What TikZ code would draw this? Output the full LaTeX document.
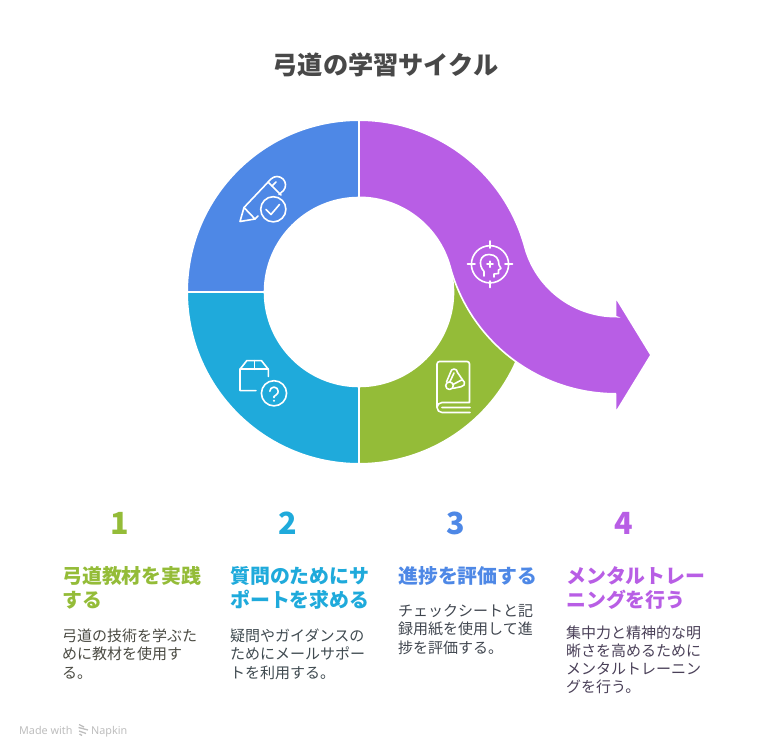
\documentclass[tikz,border=0pt]{standalone}
\usepackage{fontspec}
\setmainfont{Noto Sans CJK JP}
\setsansfont{Noto Sans}
\usetikzlibrary{positioning}
\definecolor{ringgreen}{HTML}{94BC38}
\definecolor{ringteal}{HTML}{1FAADB}
\definecolor{ringblue}{HTML}{4E88E6}
\definecolor{ringpurple}{HTML}{B85EE5}
\definecolor{titlegray}{HTML}{484848}
\definecolor{bodyone}{HTML}{4A4A42}
\definecolor{bodytwo}{HTML}{3F4A50}
\definecolor{bodythree}{HTML}{40464F}
\definecolor{bodyfour}{HTML}{4A4058}
\definecolor{markgray}{HTML}{BDBDBD}

\begin{document}
\begin{tikzpicture}[
    x=1pt, y=1pt,
    node distance=8pt,
    segment/.style={draw=white, line width=1.6pt, line join=miter},
    numlabel/.style={inner sep=0pt, font=\bfseries\fontsize{30.5}{30.5}\selectfont},
    headlabel/.style={inner sep=0pt, anchor=north west, align=left, font=\bfseries\fontsize{19.9}{24.4}\selectfont},
    bodylabel/.style={inner sep=0pt, anchor=north west, align=left, font=\fontsize{15}{18.3}\selectfont},
    marklabel/.style={inner sep=0pt, anchor=base west, text=markgray, font=\sffamily\fontsize{10.8}{10.8}\selectfont},
    iconline/.style={draw=white, line width=1.6pt, line cap=round, line join=round, fill=none}
]
   \useasboundingbox (0,0) rectangle (768,755);

   \coordinate (ringc) at (359,463);
   \coordinate (bendc) at (616,533);

   % Ring
   \path[segment, fill=ringblue]
   ([shift={(90:171.8)}]ringc) arc[start angle=90, end angle=180, radius=171.8]
   -- ([shift={(180:94.5)}]ringc) arc[start angle=180, end angle=90, radius=94.5] -- cycle;
   \path[segment, fill=ringteal]
   ([shift={(180:171.8)}]ringc) arc[start angle=180, end angle=270, radius=171.8]
   -- ([shift={(270:94.5)}]ringc) arc[start angle=270, end angle=180, radius=94.5] -- cycle;
   \path[segment, fill=ringgreen]
   ([shift={(270:171.8)}]ringc) arc[start angle=270, end angle=375, radius=171.8]
   -- ([shift={(15:94.5)}]ringc) arc[start angle=375, end angle=270, radius=94.5] -- cycle;

   % Arrow
   \path[segment, fill=ringpurple]
   ([shift={(90:171.8)}]ringc) arc[start angle=90, end angle=15.2, radius=171.8]
   arc[start angle=195.2, end angle=270, radius=94.5]
   -- (615.5,438.5) -- (615.5,458) -- (651,400) -- (615.5,342) -- (615.5,361.2) -- ([shift={(270:171.8)}]bendc)
   arc[start angle=270, end angle=195.2, radius=171.8]
   arc[start angle=15.2, end angle=90, radius=94.5] -- cycle;

   % Pen
   \begin{scope}[shift={(0,755)}, yscale=-1, iconline]
      \draw (244,207.5) -- (240,221.5) -- (255,219) -- cycle;
      \draw (244,207.5) -- (271,179) arc[start angle=225, end angle=400, radius=8.5] -- (279,194.5);
      \draw (255,219) -- (258,216);
      \draw (268,182) -- (281,195);
      \draw (272,186) -- (276,182);
      \draw (273.3,209.3) circle[radius=12.6];
      \draw (266,209.5) -- (271,214.5) -- (279.5,204.5);
   \end{scope}

   % Box
   \begin{scope}[shift={(0,755)}, yscale=-1, iconline]
      \draw (268.3,376.5) -- (268.3,369.3) -- (261.5,360.7) -- (246.7,360.7) -- (240,369.3) -- (240,390.7) -- (256,390.7);
      \draw (240,369.3) -- (268.3,369.3);
      \draw (254.5,360.7) -- (254.5,369.3);
      \draw (274,393.3) circle[radius=12.6];
      \draw (269.8,391.3) arc[start angle=180, end angle=420, radius=4.2] -- (274,396.5) -- (274,397.5);
      \fill[white] (274,400.8) circle[radius=1.1];
   \end{scope}

   % Book
   \begin{scope}[shift={(0,755)}, yscale=-1, iconline]
      \draw (437,407.5) -- (437,364) arc[start angle=180, end angle=270, radius=2.5] -- (467,361.5)
      arc[start angle=270, end angle=360, radius=2.5] -- (469.5,402.5) -- (442,402.5)
      arc[start angle=270, end angle=90, radius=5] -- (470,412.5) (442,407.5) -- (470,407.5);
      \draw (449.5,385.7) circle[radius=3.8];
      \draw (446.5,382) -- (450.5,372.5) arc[start angle=180, end angle=360, radius=3.5] -- (462.8,380.2)
      arc[start angle=-60, end angle=90, radius=3.5] -- (453.5,388.3);
      \draw (450,381.5) -- (454,373);
      \draw (453,384.5) -- (461.5,380);
   \end{scope}

   % Target
   \begin{scope}[shift={(0,755)}, yscale=-1, iconline]
      \draw (490,264.3) circle[radius=18.6];
      \draw (490,241) -- (490,248) (490,281) -- (490,287.5);
      \draw (467.5,264.3) -- (475,264.3) (505,264.3) -- (512.5,264.3);
      \draw (487,264.3) -- (493,264.3) (490,261.3) -- (490,267.3);
      \draw (484,276) -- (484,271.5) .. controls (478,265) and (479.5,254.5) .. (489,254.5)
      .. controls (496,254.5) and (499,259) .. (499,265) -- (501,268.5) -- (498.5,270)
      -- (498.5,273.5) -- (494,274) -- (494,277);
   \end{scope}

   % Labels
   \node[font=\bfseries\fontsize{25.2}{25.2}\selectfont, text=titlegray, inner sep=0pt] (title) at (385.5,690) {弓道の学習サイクル};

   \node[numlabel, text=ringgreen] (num1) at (120,232) {1};
   \node[numlabel, text=ringteal, right=168pt of num1.center, anchor=center] (num2) {2};
   \node[numlabel, text=ringblue, right=168pt of num2.center, anchor=center] (num3) {3};
   \node[numlabel, text=ringpurple, right=168pt of num3.center, anchor=center] (num4) {4};

   \node[headlabel, text=ringgreen] (head1) at (62,189) {弓道教材を実践\\する};
   \node[headlabel, text=ringteal] (head2) at (230,189) {質問のためにサ\\ポートを求める};
   \node[headlabel, text=ringblue] (head3) at (398,189) {進捗を評価する};
   \node[headlabel, text=ringpurple] (head4) at (566,189) {メンタルトレー\\ニングを行う};

   \node[bodylabel, text=bodyone, below=19pt of head1.south west, anchor=north west] (body1) {弓道の技術を学ぶた\\めに教材を使用す\\る。};
   \node[bodylabel, text=bodytwo, below=19pt of head2.south west, anchor=north west] (body2) {疑問やガイダンスの\\ためにメールサポー\\トを利用する。};
   \node[bodylabel, text=bodythree, below=19pt of head3.south west, anchor=north west] (body3) {チェックシートと記\\録用紙を使用して進\\捗を評価する。};
   \node[bodylabel, text=bodyfour, below=15.5pt of head4.south west, anchor=north west] (body4) {集中力と精神的な明\\晰さを高めるために\\メンタルトレーニン\\グを行う。};

   % Mark
   \node[marklabel] (made) at (19,21) {Made with};
   \node[marklabel] (napkin) at (91,21) {Napkin};
   \draw[markgray, line width=1.3pt] (79,30.5) -- (84,28) (78.5,27.5) -- (88,25) (79,24) -- (86,21.5) (79.5,21) -- (82,19.5);
\end{tikzpicture}
\end{document}
